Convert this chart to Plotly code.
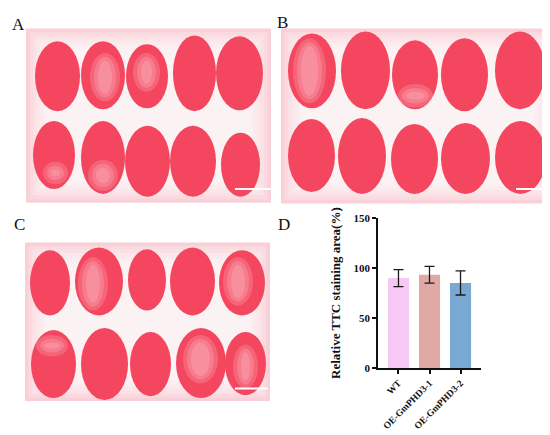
import plotly.graph_objects as go

# ---------------- data (panel D) ----------------
categories = ["WT", "OE-GmPHD3-1", "OE-GmPHD3-2"]
means = [90.0, 93.3, 85.2]
errors = [8.5, 8.4, 12.1]
bar_colors = ["#F6C9F4", "#DFAAA6", "#79A8D3"]
y_ticks = [0, 50, 100, 150]
y_title = "Relative TTC staining area(%)"
panel_labels = ["A", "B", "C", "D"]

W, H = 550, 435
SERIF = "Liberation Serif, Times New Roman, serif"


def px(x):
    return x / W


def py(y):
    return 1 - y / H


fig = go.Figure()
fig.add_trace(go.Bar(
    x=categories, y=means,
    marker=dict(color=bar_colors, line=dict(width=0)),
    width=0.68,
    error_y=dict(type="data", array=errors, visible=True,
                 color="#1a1a1a", thickness=1.3, width=5),
    showlegend=False,
))

# ---------------- photo panels (decorative approximation) ----------------
photos = [(18, 15, 263, 194), (273, 15, 547, 195), (17, 235, 262, 398)]
seeds = [
    [(27, 28, 72, 100), (73, 28, 117, 98), (118, 31, 160, 97), (165, 22, 208, 100), (208, 23, 255, 99),
     (25, 110, 67, 180), (73, 110, 117, 185), (117, 115, 162, 188), (162, 115, 208, 188), (213, 122, 252, 188)],
    [(280, 20, 328, 97), (333, 18, 382, 98), (384, 27, 430, 98), (433, 25, 480, 100), (487, 18, 537, 98),
     (280, 108, 327, 183), (330, 107, 378, 185), (383, 113, 430, 185), (433, 112, 482, 185), (487, 110, 538, 185)],
    [(22, 243, 62, 310), (67, 240, 115, 310), (120, 242, 158, 305), (162, 240, 207, 310), (211, 243, 257, 310),
     (23, 325, 68, 395), (73, 323, 120, 397), (122, 327, 163, 393), (168, 323, 218, 395), (217, 327, 258, 392)],
]
pale = [(82, 40, 112, 90), (125, 40, 152, 80), (285, 25, 318, 92), (390, 72, 425, 96),
        (70, 250, 100, 305), (215, 250, 245, 300), (28, 330, 60, 352), (175, 330, 210, 380),
        (225, 340, 250, 385), (80, 150, 110, 182), (35, 152, 60, 175)]
scalebars = [(227, 263, 180), (508, 543, 180), (227, 260, 385)]

shapes = []
for (x0, y0, x1, y1) in photos:
    shapes.append(dict(type="rect", xref="paper", yref="paper",
                       x0=px(x0), x1=px(x1), y0=py(y1), y1=py(y0),
                       fillcolor="#F9D0D7", line=dict(width=0), layer="below"))
    for k in range(1, 7):
        ins = 3.5 * k
        shapes.append(dict(type="rect", xref="paper", yref="paper",
                           x0=px(x0 + ins), x1=px(x1 - ins), y0=py(y1 - ins), y1=py(y0 + ins),
                           fillcolor="rgba(255,255,255,0.2)", line=dict(width=0), layer="below"))
for group in seeds:
    for (x0, y0, x1, y1) in group:
        shapes.append(dict(type="circle", xref="paper", yref="paper",
                           x0=px(x0), x1=px(x1), y0=py(y1), y1=py(y0),
                           fillcolor="#F4475F", line=dict(width=0), layer="below"))
for (x0, y0, x1, y1) in pale:
    for k, op in enumerate([0.18, 0.18, 0.18]):
        d = 4 * k
        shapes.append(dict(type="circle", xref="paper", yref="paper",
                           x0=px(x0 + d), x1=px(x1 - d), y0=py(y1 - d), y1=py(y0 + d),
                           fillcolor="rgba(255,235,238,%.2f)" % op, line=dict(width=0), layer="below"))
for (x0, x1, y) in scalebars:
    shapes.append(dict(type="line", xref="paper", yref="paper",
                       x0=px(x0), x1=px(x1), y0=py(y), y1=py(y),
                       line=dict(color="white", width=2), layer="below"))

label_pos = [(10, 11), (274, 9), (11, 216), (276, 216)]
annotations = []
for lab, (x, y) in zip(panel_labels, label_pos):
    annotations.append(dict(text=lab, xref="paper", yref="paper", x=px(x), y=py(y),
                            showarrow=False, xanchor="center", yanchor="middle",
                            font=dict(family=SERIF, size=17, color="#111")))

fig.update_layout(
    width=W, height=H,
    margin=dict(l=0, r=0, t=0, b=0),
    paper_bgcolor="white", plot_bgcolor="rgba(0,0,0,0)",
    shapes=shapes, annotations=annotations,
    font=dict(family=SERIF, color="#111"),
    xaxis=dict(domain=[px(370), px(473)], range=[-0.66, 2.66],
               showline=True, linecolor="#111", linewidth=1.8,
               ticks="outside", ticklen=4, tickwidth=1.5, tickcolor="#111",
               tickangle=-45, showgrid=False, zeroline=False,
               tickfont=dict(family=SERIF, size=9.5, color="#111", weight="bold")),
    yaxis=dict(domain=[py(364), py(210)], range=[0, 150],
               tickvals=y_ticks, showline=True, linecolor="#111", linewidth=1.8,
               ticks="outside", ticklen=4, tickwidth=1.5, tickcolor="#111",
               showgrid=False, zeroline=False,
               tickfont=dict(family=SERIF, size=11, color="#111", weight="bold"),
               title=dict(text=y_title, standoff=10,
                          font=dict(family=SERIF, size=13, color="#111", weight="bold"))),
)

fig.write_html("out.html")
